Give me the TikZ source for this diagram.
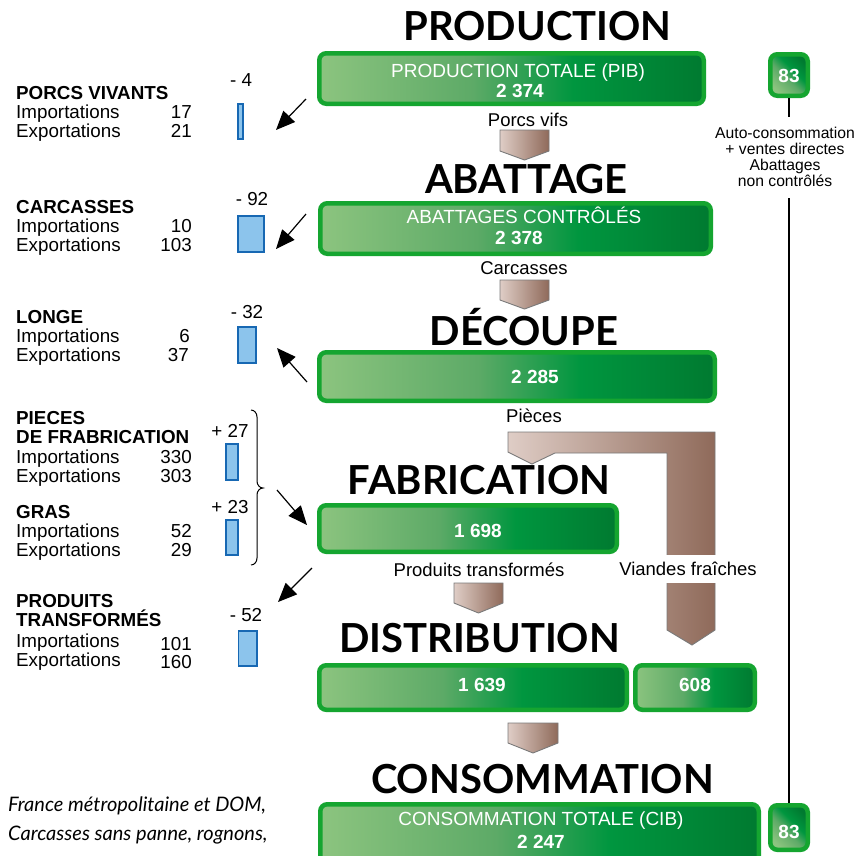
\documentclass[tikz,border=0pt]{standalone}
\usepackage{fontspec}
\setmainfont{Liberation Sans}
\newfontfamily\titlefont{Lato}
\newfontfamily\notefont{Lato}
\usetikzlibrary{arrows.meta}
\definecolor{gborder}{HTML}{15A530}
\definecolor{gA}{HTML}{8CC47F}
\definecolor{gB}{HTML}{5DAA67}
\definecolor{gC}{HTML}{00963F}
\definecolor{gD}{HTML}{007A30}
\definecolor{bA}{HTML}{DFCDC6}
\definecolor{bB}{HTML}{8F6A5A}
\definecolor{agray}{HTML}{7A7A7A}
\definecolor{barfill}{HTML}{8CC4EC}
\definecolor{barline}{HTML}{1768B3}
\pgfdeclarehorizontalshading{gshade}{100bp}{color(0bp)=(gA); color(25bp)=(gA); color(45bp)=(gB); color(58bp)=(gC); color(75bp)=(gD); color(100bp)=(gD)}
\pgfdeclarehorizontalshading{bshade}{100bp}{color(0bp)=(bA); color(25bp)=(bA); color(75bp)=(bB); color(100bp)=(bB)}
\tikzset{
  gbox/.style={rectangle, draw=gborder, line width=4.5pt, rounded corners=7pt, shade, shading=gshade, inner sep=0pt},
  sqbox/.style={gbox, shading angle=45},
  btext/.style={text=white, font=\fontsize{19}{21}\selectfont, anchor=base, inner sep=0pt},
  bnum/.style={text=white, font=\bfseries\fontsize{19}{21}\selectfont, anchor=base, inner sep=0pt},
  ttl/.style={font=\titlefont\bfseries\fontsize{40}{40}\selectfont, anchor=base, inner sep=0pt},
  flowlbl/.style={font=\fontsize{18.5}{20}\selectfont, anchor=base, inner sep=0pt},
  lhead/.style={font=\bfseries\fontsize{18.8}{20}\selectfont, anchor=base west, inner sep=0pt},
  ltext/.style={font=\fontsize{18.8}{20}\selectfont, anchor=base west, inner sep=0pt},
  lnum/.style={font=\fontsize{18.8}{20}\selectfont, anchor=base east, inner sep=0pt},
  lval/.style={font=\fontsize{18.8}{20}\selectfont, inner sep=0pt},
  bar/.style={rectangle, draw=barline, line width=1.8pt, fill=barfill, inner sep=0pt},
  barrow/.style={shade, shading=bshade, draw=agray, line width=0.9pt, line join=miter},
  larrow/.style={-{Triangle[length=19pt,width=16pt]}, line width=1.2pt},
  note/.style={font=\notefont\itshape\fontsize{20}{20}\selectfont, anchor=base west, inner sep=0pt},
}
\begin{document}
\begin{tikzpicture}[x=1pt,y=-1pt]
\useasboundingbox (0,0) rectangle (868,855);
\fill[white] (0,0) rectangle (868,855);

% titles
\node[ttl] (tprod) at (537.5,40) {PRODUCTION};
\node[ttl] (tabat) at (526.5,193) {ABATTAGE};
\node[ttl] (tdec) at (524,345) {DÉCOUPE};
\node[ttl] (tfab) at (479,494) {FABRICATION};
\node[ttl] (tdist) at (479.5,652) {DISTRIBUTION};
\node[ttl] (tcons) at (542.5,793) {CONSOMMATION};

% brown L-shaped arrow (Pièces / Viandes fraîches)
\draw[barrow] (508,432) -- (715,432) -- (715,630) -- (692,645) -- (667,630) -- (667,453) -- (555,453) -- (532,464) -- (508,452) -- cycle;

% small flow arrows
\draw[barrow] (500,130) -- (549,130) -- (549,151) -- (524.5,160) -- (500,151) -- cycle;
\draw[barrow] (500,280) -- (549,280) -- (549,300) -- (524.5,309) -- (500,300) -- cycle;
\draw[barrow] (454,583) -- (503,583) -- (503,603) -- (478.5,613) -- (454,603) -- cycle;
\draw[barrow] (508,723) -- (558,723) -- (558,743) -- (533,753) -- (508,743) -- cycle;

% green boxes
\node[gbox, minimum width=384.5pt, minimum height=50.5pt] (pib) at (511.5,78.5) {};
\node[gbox, minimum width=390.5pt, minimum height=50.5pt] (abat) at (515.5,228.5) {};
\node[gbox, minimum width=395.5pt, minimum height=48.5pt] (dec) at (517,376.5) {};
\node[gbox, minimum width=297.5pt, minimum height=46.5pt] (fab) at (468,528.5) {};
\node[gbox, minimum width=307.5pt, minimum height=44.5pt] (dist) at (473,687.5) {};
\node[gbox, minimum width=119.5pt, minimum height=44.5pt] (fresh) at (695,687.5) {};
\node[gbox, minimum width=438.5pt, minimum height=63.5pt] (cib) at (539.5,836) {};
\node[sqbox, minimum width=37.5pt, minimum height=41.5pt] (sqa) at (789,75) {};
\node[sqbox, minimum width=37.5pt, minimum height=44.5pt] (sqb) at (789,827.5) {};

% box texts
\node[btext] (pibt) at (518,77) {PRODUCTION TOTALE (PIB)};
\node[bnum] (pibn) at (520,97) {2 374};
\node[btext] (abatt) at (524,223) {ABATTAGES CONTRÔLÉS};
\node[bnum] (abatn) at (519,244) {2 378};
\node[bnum] (decn) at (535,383) {2 285};
\node[bnum] (fabn) at (478,537) {1 698};
\node[bnum] (distn) at (482,691) {1 639};
\node[bnum] (freshn) at (695,691) {608};
\node[btext] (cibt) at (541,825) {CONSOMMATION TOTALE (CIB)};
\node[bnum] (cibn) at (541,848) {2 247};
\node[bnum] (sqan) at (789,82) {83};
\node[bnum] (sqbn) at (789,838) {83};

% flow labels
\node[flowlbl] (lporcs) at (528,126) {Porcs vifs};
\node[flowlbl] (lcarc) at (524,274) {Carcasses};
\node[flowlbl] (lpieces) at (534,422) {Pièces};
\node[flowlbl] (lprod) at (479,576) {Produits transformés};
\node[fill=white, font=\fontsize{18.5}{20}\selectfont, minimum height=28pt, inner sep=1pt] (lviand) at (688,569) {Viandes fraîches};

% right column
\node[font=\fontsize{15.7}{16}\selectfont, align=center, inner sep=0pt] (auto) at (785,157) {Auto-consommation\\+ ventes directes\\Abattages\\non contrôlés};
\coordinate (autotop) at (789,117);
\coordinate (autobot) at (789,198);
\draw[line width=1.2pt] (sqa.south) -- (autotop);
\draw[line width=1.2pt] (autobot) -- (sqb.north);

% left side: porcs vivants
\node[lhead] (h1) at (16,99) {PORCS VIVANTS};
\node[ltext] (i1) at (16,118) {Importations};
\node[ltext] (e1) at (16,137) {Exportations};
\node[lnum] (i1n) at (192,118) {17};
\node[lnum] (e1n) at (192,137) {21};
\node[lval] (v1) at (241,80) {- 4};
\node[bar, minimum width=5.2pt, minimum height=35.2pt] (b1) at (240.5,121.5) {};
\coordinate (a1s) at (306,99);
\coordinate (a1e) at (276,130);
\draw[larrow] (a1s) -- (a1e);

% carcasses
\node[lhead] (h2) at (16,213) {CARCASSES};
\node[ltext] (i2) at (16,232) {Importations};
\node[ltext] (e2) at (16,251) {Exportations};
\node[lnum] (i2n) at (192,232) {10};
\node[lnum] (e2n) at (192,251) {103};
\node[lval] (v2) at (252,199) {- 92};
\node[bar, minimum width=26.2pt, minimum height=36.2pt] (b2) at (251,234) {};
\coordinate (a2s) at (306,214);
\coordinate (a2e) at (276,249);
\draw[larrow] (a2s) -- (a2e);

% longe
\node[lhead] (h3) at (16,323) {LONGE};
\node[ltext] (i3) at (16,342) {Importations};
\node[ltext] (e3) at (16,361) {Exportations};
\node[lnum] (i3n) at (190,342) {6};
\node[lnum] (e3n) at (189,361) {37};
\node[lval] (v3) at (247,312) {- 32};
\node[bar, minimum width=18.2pt, minimum height=36.2pt] (b3) at (247,345) {};
\coordinate (a3s) at (307,382);
\coordinate (a3e) at (277,348);
\draw[larrow] (a3s) -- (a3e);

% pieces de fabrication
\node[lhead] (h4) at (16,424) {PIECES};
\node[lhead] (h4b) at (16,443) {DE FRABRICATION};
\node[ltext] (i4) at (16,463) {Importations};
\node[ltext] (e4) at (16,482) {Exportations};
\node[lnum] (i4n) at (192,463) {330};
\node[lnum] (e4n) at (192,482) {303};
\node[lval] (v4) at (230,431) {+ 27};
\node[bar, minimum width=12.2pt, minimum height=36.2pt] (b4) at (232,462) {};

% gras
\node[lhead] (h5) at (16,518) {GRAS};
\node[ltext] (i5) at (16,537) {Importations};
\node[ltext] (e5) at (16,556) {Exportations};
\node[lnum] (i5n) at (192,537) {52};
\node[lnum] (e5n) at (192,556) {29};
\node[lval] (v5) at (230,507) {+ 23};
\node[bar, minimum width=12.2pt, minimum height=35.2pt] (b5) at (232,537.5) {};

% bracket
\draw[line width=1pt] (251,410) to[out=0,in=90] (257,417) -- (257,481) to[out=-90,in=180] (263,488) to[out=180,in=90] (257,495) -- (257,558) to[out=-90,in=0] (251,565);
\coordinate (a4s) at (277,490);
\coordinate (a4e) at (307,525);
\draw[larrow] (a4s) -- (a4e);
\coordinate (a5s) at (312,568);
\coordinate (a5e) at (278,602);
\draw[larrow] (a5s) -- (a5e);

% produits transformes
\node[lhead] (h6) at (16,607) {PRODUITS};
\node[lhead] (h6b) at (16,626) {TRANSFORMÉS};
\node[ltext] (i6) at (16,647) {Importations};
\node[ltext] (e6) at (16,666) {Exportations};
\node[lnum] (i6n) at (192,650) {101};
\node[lnum] (e6n) at (192,668) {160};
\node[lval] (v6) at (246,615) {- 52};
\node[bar, minimum width=18.2pt, minimum height=35.2pt] (b6) at (247.5,648.5) {};

% footnote
\node[note] (n1) at (8,811) {France métropolitaine et DOM,};
\node[note] (n2) at (8,840) {Carcasses sans panne, rognons,};
\end{tikzpicture}
\end{document}
